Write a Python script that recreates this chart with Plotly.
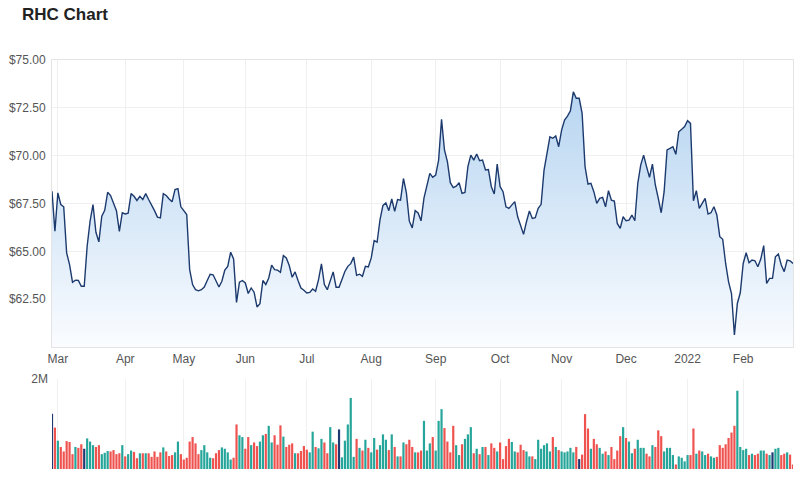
import pandas as pd
import plotly.graph_objects as go

# ---------------- data ----------------
start_date = "2021-02-25"
end_date = "2022-02-24"
asx_holidays = ["2021-04-02", "2021-04-05", "2021-06-14", "2021-12-27",
                "2021-12-28", "2022-01-03", "2022-01-26"]
trading_days = pd.bdate_range(start_date, end_date, freq="C", holidays=asx_holidays)
dates = [d.strftime("%Y-%m-%d") for d in trading_days]

month_labels = ["Mar", "Apr", "May", "Jun", "Jul", "Aug", "Sep", "Oct",
                "Nov", "Dec", "2022", "Feb"]

close_price = [
    68.14, 66.05, 68.06, 67.45, 67.33, 64.92, 64.31, 63.39, 63.50, 63.48,
    63.18, 63.18, 65.27, 66.58, 67.45, 66.00, 65.50, 66.84, 67.15, 68.09,
    67.92, 67.53, 67.13, 66.05, 67.02, 66.96, 67.00, 68.02, 67.88, 67.66,
    67.88, 67.71, 68.02, 67.71, 67.45, 67.13, 66.79, 66.75, 68.02, 67.92,
    67.74, 67.59, 68.23, 68.28, 67.33, 67.10, 66.93, 64.05, 63.27, 63.00,
    62.94, 63.00, 63.14, 63.48, 63.81, 63.78, 63.44, 63.14, 63.44, 64.02,
    64.22, 64.96, 64.61, 62.34, 63.39, 63.48, 63.35, 62.80, 63.09, 62.87,
    62.10, 62.27, 63.48, 63.27, 63.61, 64.28, 64.05, 64.02, 63.91, 64.78,
    64.66, 64.26, 63.65, 63.93, 63.48, 63.09, 62.97, 62.83, 62.86, 63.04,
    62.92, 63.53, 64.35, 63.27, 63.00, 63.48, 63.93, 63.13, 63.13, 63.53,
    63.95, 64.22, 64.36, 64.70, 63.75, 63.81, 63.70, 64.22, 64.19, 64.66,
    65.57, 65.48, 66.66, 67.40, 67.53, 67.13, 67.74, 67.10, 67.71, 67.68,
    68.81, 68.06, 66.58, 66.23, 67.13, 67.01, 66.60, 67.78, 68.40, 69.08,
    68.87, 68.99, 69.77, 71.90, 70.30, 69.69, 68.59, 68.33, 68.41, 68.59,
    68.03, 68.08, 69.43, 70.03, 69.77, 70.09, 69.74, 69.77, 69.25, 69.28,
    68.38, 68.00, 69.56, 68.38, 68.12, 67.33, 67.25, 67.42, 67.60, 66.81,
    66.38, 65.89, 66.55, 67.11, 66.72, 66.76, 67.25, 67.46, 69.25, 70.03,
    70.99, 70.91, 71.03, 70.47, 71.34, 71.86, 72.07, 72.35, 73.34, 73.00,
    73.00, 72.21, 69.43, 68.52, 68.56, 68.12, 67.51, 67.77, 67.82, 67.33,
    68.17, 67.68, 67.63, 66.46, 66.20, 66.81, 66.60, 66.63, 66.90, 66.60,
    68.55, 69.51, 70.03, 69.43, 68.87, 69.56, 68.47, 67.77, 67.02, 68.12,
    70.30, 70.38, 70.47, 70.07, 71.25, 71.38, 71.52, 71.83, 71.69, 67.65,
    68.17, 67.25, 67.54, 67.77, 66.95, 67.02, 67.33, 66.90, 65.77, 65.63,
    64.37, 63.41, 62.80, 60.63, 62.28, 62.84, 64.37, 64.93, 64.41, 64.55,
    64.51, 64.20, 64.60, 65.30, 63.33, 63.59, 63.59, 64.72, 64.86, 64.29,
    63.94, 64.55, 64.51, 64.37,
]

volume_m = [
    1.23, 0.92, 0.63, 0.49, 0.39, 0.62, 0.60, 0.33, 0.49, 0.47,
    0.55, 0.45, 0.68, 0.61, 0.53, 0.49, 0.53, 0.33, 0.36, 0.40,
    0.39, 0.42, 0.33, 0.35, 0.53, 0.28, 0.33, 0.41, 0.38, 0.24,
    0.35, 0.35, 0.35, 0.35, 0.27, 0.39, 0.27, 0.37, 0.48, 0.39,
    0.29, 0.31, 0.37, 0.61, 0.33, 0.21, 0.25, 0.61, 0.71, 0.57,
    0.33, 0.42, 0.53, 0.37, 0.25, 0.24, 0.35, 0.42, 0.48, 0.45,
    0.37, 0.21, 0.25, 0.99, 0.75, 0.71, 0.45, 0.71, 0.53, 0.59,
    0.51, 0.61, 0.75, 0.78, 0.96, 0.59, 0.75, 0.54, 0.97, 0.72,
    0.49, 0.54, 0.57, 0.35, 0.35, 0.40, 0.51, 0.43, 0.37, 0.83,
    0.49, 0.46, 0.67, 0.59, 0.35, 0.93, 0.59, 0.55, 0.88, 0.26,
    0.63, 0.99, 1.58, 0.27, 0.67, 0.47, 0.41, 0.65, 0.47, 0.37,
    0.69, 0.43, 0.53, 0.77, 0.65, 0.42, 0.77, 0.49, 0.28, 0.28,
    0.59, 0.55, 0.65, 0.49, 0.37, 0.37, 0.41, 1.07, 0.41, 0.57,
    0.71, 0.41, 1.07, 1.33, 0.91, 0.61, 0.37, 0.96, 0.53, 0.31,
    0.55, 0.67, 0.77, 0.93, 0.35, 0.45, 0.33, 0.49, 0.49, 0.31,
    0.57, 0.47, 0.39, 0.59, 0.22, 0.51, 0.67, 0.60, 0.39, 0.37,
    0.54, 0.42, 0.39, 0.28, 0.28, 0.22, 0.65, 0.45, 0.53, 0.57,
    0.39, 0.71, 0.49, 0.42, 0.39, 0.37, 0.39, 0.47, 0.37, 0.49,
    0.22, 0.32, 1.22, 0.90, 0.45, 0.67, 0.55, 0.47, 0.34, 0.39,
    0.31, 0.49, 0.22, 0.41, 0.73, 0.93, 0.69, 0.61, 0.35, 0.45,
    0.65, 0.47, 0.47, 0.34, 0.28, 0.53, 0.49, 0.86, 0.73, 0.39,
    0.47, 0.47, 0.31, 0.10, 0.28, 0.25, 0.17, 0.31, 0.31, 0.90,
    0.34, 0.41, 0.39, 0.31, 0.34, 0.28, 0.25, 0.27, 0.53, 0.47,
    0.55, 0.69, 0.81, 0.96, 1.74, 0.49, 0.42, 0.45, 0.31, 0.34,
    0.31, 0.34, 0.41, 0.41, 0.34, 0.31, 0.37, 0.45, 0.47, 0.31,
    0.34, 0.37, 0.32, 0.10,
]

# first trading day of each month -> tick positions
first_of_month = pd.Series(trading_days).groupby(
    [trading_days.year, trading_days.month]).min()
tick_dates = [d.strftime("%Y-%m-%d") for d in first_of_month][1:]

UP, DOWN, FLAT = "#26a69a", "#ef5350", "#1f3a73"
bar_colors = [FLAT]
for prev, cur in zip(close_price[:-1], close_price[1:]):
    bar_colors.append(UP if cur > prev else (DOWN if cur < prev else FLAT))

n = len(dates)

fig = go.Figure()
fig.add_trace(go.Scatter(
    x=dates, y=close_price, mode="lines",
    line=dict(color="#1c3a6e", width=1.4),
    fill="tozeroy",
    fillgradient=dict(type="vertical", start=60, stop=74,
                      colorscale=[[0, "rgba(250,252,255,1)"],
                                  [1, "rgba(180,211,240,1)"]]),
    xaxis="x", yaxis="y", hoverinfo="x+y", showlegend=False,
))
fig.add_trace(go.Bar(
    x=dates, y=volume_m, marker=dict(color=bar_colors, line=dict(width=0)),
    xaxis="x2", yaxis="y2", showlegend=False,
))

grid = "#f0f0f0"
border = "#e4e4e4"
tickfont = dict(family="Liberation Sans, Arial, sans-serif", size=12, color="#555")

fig.update_layout(
    width=804, height=480,
    margin=dict(l=52, r=11, t=60, b=11),
    paper_bgcolor="white", plot_bgcolor="white",
    bargap=0.25,
    title=dict(text="<b>RHC Chart</b>", x=22 / 804, xanchor="left",
               y=1 - 14 / 480, yanchor="middle",
               font=dict(family="Liberation Sans, Arial, sans-serif",
                         size=17, color="#222")),
    xaxis=dict(type="category", range=[0, n - 1], domain=[0, 1], anchor="y",
               tickmode="array", tickvals=tick_dates, ticktext=month_labels,
               showgrid=True, gridcolor=grid, ticks="", tickfont=tickfont,
               automargin=False,
               showline=True, linecolor=border, mirror=True, zeroline=False),
    yaxis=dict(domain=[0.298, 1.0], range=[60, 75], anchor="x",
               tickmode="array", tickvals=[62.5, 65, 67.5, 70, 72.5, 75],
               ticktext=["$62.50", "$65.00", "$67.50", "$70.00", "$72.50", "$75.00"],
               showgrid=True, gridcolor=grid, ticks="", tickfont=tickfont,
               ticklabelstandoff=3, automargin=False,
               showline=True, linecolor=border, mirror=True, zeroline=False),
    xaxis2=dict(type="category", range=[0, n - 1], domain=[0, 1], anchor="y2",
                tickmode="array", tickvals=tick_dates, showticklabels=False,
                showgrid=True, gridcolor=grid, ticks="", automargin=False,
                showline=False, zeroline=False),
    yaxis2=dict(domain=[0, 0.22], range=[0, 2], anchor="x2",
                tickmode="array", tickvals=[2], ticktext=["2M"],
                showgrid=True, gridcolor="#e6e6e6", ticks="", tickfont=tickfont,
                ticklabelstandoff=3, automargin=False,
                showline=False, zeroline=False),
)

fig.write_html("out.html")
